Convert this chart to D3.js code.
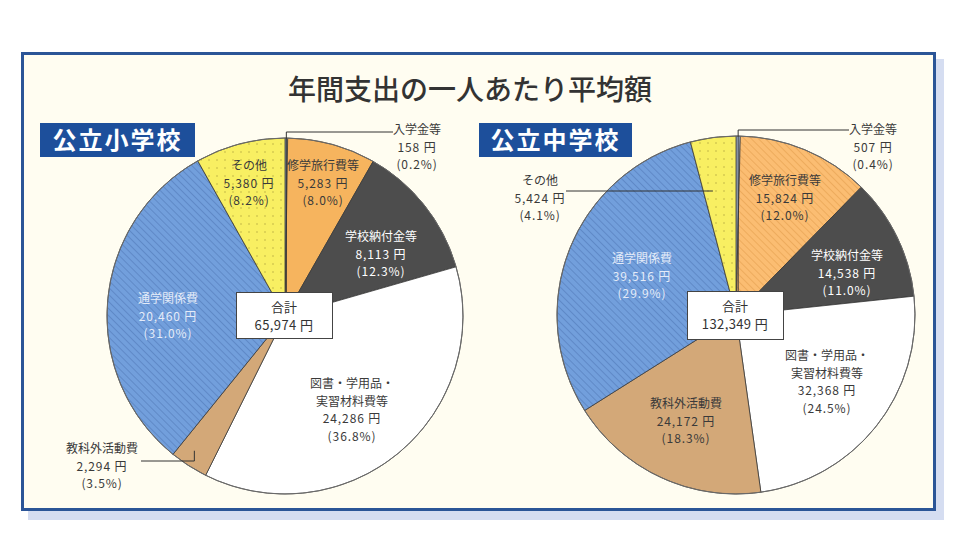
<!DOCTYPE html>
<html><head><meta charset="utf-8">
<script src="https://cdn.jsdelivr.net/npm/d3@7"></script>
<style>
html,body{margin:0;padding:0;background:#fff;}
svg{display:block;font-family:"Noto Sans CJK JP","Noto Sans",sans-serif;}
</style></head>
<body><svg id="c" width="960" height="556"></svg>
<script>
// ---- data ----
const title = "年間支出の一人あたり平均額";
const schools = ["公立小学校", "公立中学校"];
const categories = ["入学金等", "修学旅行費等", "学校納付金等", "図書・学用品・実習材料費等", "教科外活動費", "通学関係費", "その他"];
const categoryLines = [["入学金等"], ["修学旅行費等"], ["学校納付金等"], ["図書・学用品・", "実習材料費等"], ["教科外活動費"], ["通学関係費"], ["その他"]];
const elementaryValues = [158, 5283, 8113, 24286, 2294, 20460, 5380];
const juniorHighValues = [507, 15824, 14538, 32368, 24172, 39516, 5424];
const totalLabel = "合計";

// ---- layout / style (not data) ----
const svg = d3.select("#c");
const defs = svg.append("defs");
function stripes(id, base, line, angle, gap, w) {
  const p = defs.append("pattern").attr("id", id).attr("patternUnits", "userSpaceOnUse")
    .attr("width", gap).attr("height", gap).attr("patternTransform", `rotate(${angle})`);
  p.append("rect").attr("width", gap).attr("height", gap).attr("fill", base);
  p.append("line").attr("x1", 0).attr("y1", 0).attr("x2", 0).attr("y2", gap)
    .attr("stroke", line).attr("stroke-width", w);
}
stripes("blueHatch", "#729fdc", "#5a84c2", -45, 5, 1.6);
stripes("orangeHatch", "#fbbd72", "#e09a48", -45, 5, 1);
const dp = defs.append("pattern").attr("id", "dots").attr("patternUnits", "userSpaceOnUse").attr("width", 8).attr("height", 8);
dp.append("rect").attr("width", 8).attr("height", 8).attr("fill", "#f8ef62");
dp.append("circle").attr("cx", 4).attr("cy", 4).attr("r", 0.8).attr("fill", "#bdb245");

// frame
svg.append("rect").attr("x", 28).attr("y", 59).attr("width", 916).attr("height", 461).attr("fill", "#d5ddf1");
svg.append("rect").attr("x", 22.5).attr("y", 53.5).attr("width", 912).attr("height", 456)
  .attr("fill", "#fffdf1").attr("stroke", "#2b5597").attr("stroke-width", 3);

svg.append("text").attr("x", 470).attr("y", 100).attr("text-anchor", "middle")
  .attr("font-size", 28).attr("font-weight", 500).attr("fill", "#333").text(title);

const fmt = d3.format(",");
const pf = d3.format(".1f");

const panels = [
  { values: elementaryValues, cx: 285, cy: 316, r: 178, box: [40, 123, 155, 34],
    fills: ["#b3c8e2", "#f6b45e", "#4d4d4d", "#ffffff", "#d3a878", "url(#blueHatch)", "url(#dots)"],
    labels: [
      { x: 417, y: 130, outside: true },
      { x: 323, y: 166 },
      { x: 381, y: 237, color: "#fff" },
      { x: 352, y: 384 },
      { x: 102, y: 449, outside: true },
      { x: 168, y: 299, color: "#e4ebf8" },
      { x: 249, y: 166 }
    ],
    totalBox: [236, 292, 96, 46] },
  { values: juniorHighValues, cx: 736, cy: 315, r: 179, box: [479, 123, 153, 34],
    fills: ["#b3c8e2", "url(#orangeHatch)", "#4d4d4d", "#ffffff", "#d3a878", "url(#blueHatch)", "url(#dots)"],
    labels: [
      { x: 873, y: 130, outside: true },
      { x: 785, y: 181 },
      { x: 847, y: 256, color: "#fff" },
      { x: 827, y: 356 },
      { x: 686, y: 404 },
      { x: 642, y: 259, color: "#e4ebf8" },
      { x: 540, y: 181, outside: true }
    ],
    totalBox: [687, 291, 96, 48] }
];

const pie = d3.pie().sort(null).value(d => d);
const LH = 17.4;

panels.forEach((P, pi) => {
  const g = svg.append("g");
  const arcs = pie(P.values);
  const total = d3.sum(P.values);
  const arc = d3.arc().innerRadius(0).outerRadius(P.r);
  const pg = g.append("g").attr("transform", `translate(${P.cx},${P.cy})`);
  pg.selectAll("path").data(arcs).join("path")
    .attr("d", arc).attr("fill", (d, i) => P.fills[i])
    .attr("stroke", "#3a3a3a").attr("stroke-width", 0.8).attr("stroke-linejoin", "round");
  pg.append("circle").attr("r", P.r).attr("fill", "none").attr("stroke", "#6a6a6a").attr("stroke-width", 1);

  // school label box
  g.append("rect").attr("x", P.box[0]).attr("y", P.box[1]).attr("width", P.box[2]).attr("height", P.box[3]).attr("fill", "#1d4f9b");
  g.append("text").attr("x", P.box[0] + P.box[2] / 2).attr("y", P.box[1] + P.box[3] / 2 + 8.5)
    .attr("text-anchor", "middle").attr("font-size", 24).attr("font-weight", 700)
    .attr("letter-spacing", 2).attr("fill", "#fff").text(schools[pi]);

  // leader lines
  const polar = (a, rr) => [P.cx + rr * Math.sin(a), P.cy - rr * Math.cos(a)];
  const lead = g.append("g").attr("stroke", "#333").attr("stroke-width", 1).attr("fill", "none");
  arcs.forEach((d, i) => {
    const L = P.labels[i];
    if (!L.outside) return;
    const mid = (d.startAngle + d.endAngle) / 2;
    if (i === 0) {
      const p = polar(mid, P.r);
      const yTop = P.cy - P.r - 6;
      lead.append("path").attr("d", `M${p[0]},${P.cy}V${yTop}H${L.x - 24}`);
    } else if (mid > Math.PI * 1.5) {
      const p = polar(mid, P.r * 0.7);
      lead.append("path").attr("d", `M${p[0] - 7},${L.y + 10}H${L.x + 26}`);
    } else {
      const p = polar(mid, P.r * 0.9);
      lead.append("path").attr("d", `M${p[0] - 4},${p[1]}V${L.y + 12}H${L.x + 39}`);
    }
  });

  // labels
  arcs.forEach((d, i) => {
    const L = P.labels[i];
    const names = categoryLines[i];
    const nums = [fmt(d.data) + " 円", "(" + pf(d.data / total * 100) + "%)"];
    const t = g.append("text").attr("text-anchor", "middle").attr("font-size", 12)
      .attr("fill", L.color || "#3a3a3a");
    names.forEach((s, k) => t.append("tspan").attr("x", L.x).attr("y", L.y + 4.3 + k * LH).text(s));
    nums.forEach((s, k) => t.append("tspan").attr("x", L.x).attr("y", L.y + 4.3 + (names.length + k) * LH)
      .attr("letter-spacing", 0.9).text(s));
  });

  // total box
  const tb = P.totalBox;
  g.append("rect").attr("x", tb[0] + 0.5).attr("y", tb[1] + 0.5).attr("width", tb[2]).attr("height", tb[3])
    .attr("fill", "#fff").attr("stroke", "#444").attr("stroke-width", 1);
  const tt = g.append("text").attr("text-anchor", "middle").attr("font-size", 13).attr("fill", "#333");
  tt.append("tspan").attr("x", tb[0] + tb[2] / 2).attr("y", tb[1] + 20).text(totalLabel);
  tt.append("tspan").attr("x", tb[0] + tb[2] / 2).attr("y", tb[1] + 38).attr("letter-spacing", 0.4).text(fmt(total) + " 円");
});
</script></body></html>
